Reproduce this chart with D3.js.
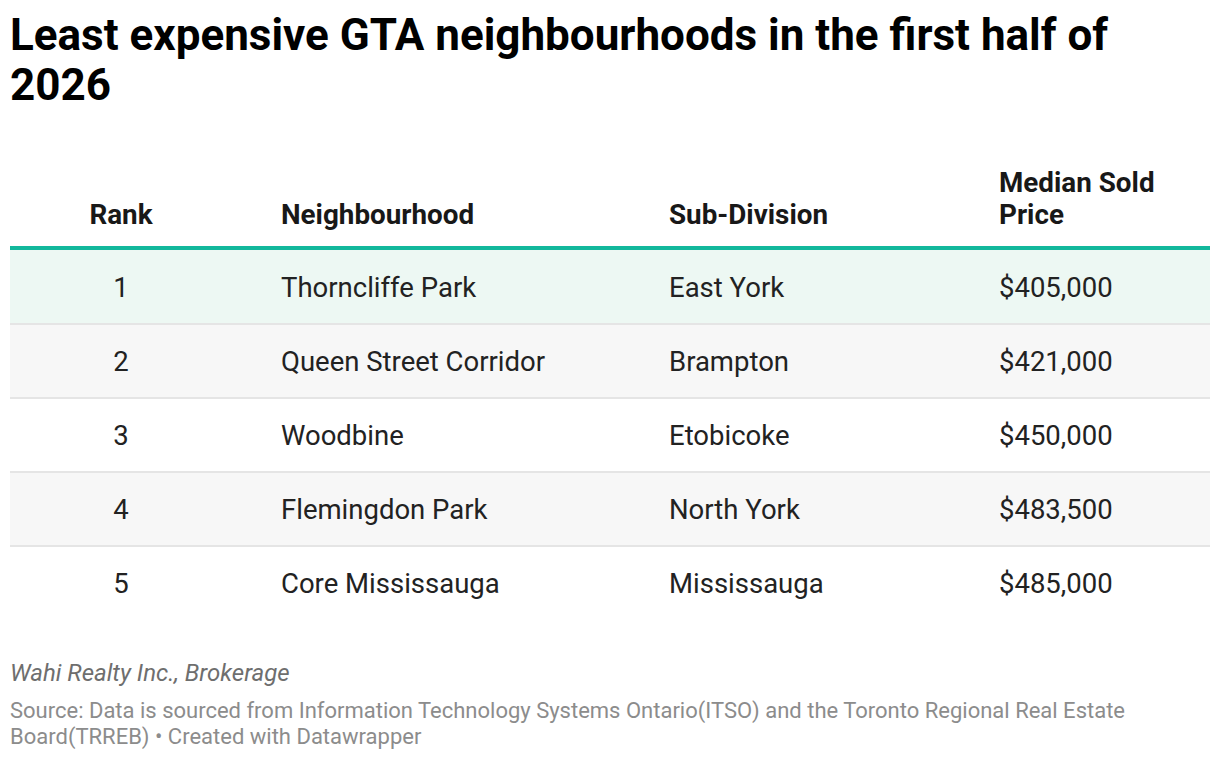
<!DOCTYPE html>
<html>
<head>
<meta charset="utf-8">
<script src="https://cdn.jsdelivr.net/npm/d3@7"></script>
<style>
  body { margin: 0; background: #fff; }
  svg { display: block; font-family: Roboto, sans-serif; }
</style>
</head>
<body>
<script>
	var titleLines = ["Least expensive GTA neighbourhoods in the first half of", "2026"];
	var headers = [["Rank"], ["Neighbourhood"], ["Sub-Division"], ["Median Sold", "Price"]];
	var ranks = [1, 2, 3, 4, 5];
	var neighbourhoods = ["Thorncliffe Park", "Queen Street Corridor", "Woodbine", "Flemingdon Park", "Core Mississauga"];
	var subDivisions = ["East York", "Brampton", "Etobicoke", "North York", "Mississauga"];
	var prices = [405000, 421000, 450000, 483500, 485000];
	var byline = "Wahi Realty Inc., Brokerage";
	var sourceLines = ["Source: Data is sourced from Information Technology Systems Ontario(ITSO) and the Toronto Regional Real Estate",
		"Board(TRREB) \u2022 Created with Datawrapper"];

	var w = 1220;
	var h = 760;
	var svg = d3.select("body").append("svg")
		.attr("width", w)
		.attr("height", h);

	// title
	svg.append("g").selectAll("text")
		.data(titleLines)
		.enter()
		.append("text")
		.text(function(d) { return d; })
		.attr("x", 10)
		.attr("y", function(d, i) { return 50 + i * 50; })
		.attr("font-size", "44px")
		.attr("font-weight", 700)
		.attr("fill", "#000");

	// columns: x position + anchor
	var cols = [
		{ x: 121, anchor: "middle" },
		{ x: 281, anchor: "start" },
		{ x: 669, anchor: "start" },
		{ x: 999, anchor: "start" }
	];

	var rows = d3.scaleBand()
		.domain(ranks)
		.range([250, 620])
		.padding(0);

	var fmt = d3.format("$,");

	// header
	var head = svg.append("g");
	headers.forEach(function(lines, c) {
		head.selectAll(null)
			.data(lines)
			.enter()
			.append("text")
			.text(function(d) { return d; })
			.attr("x", cols[c].x)
			.attr("y", function(d, i) { return 224 - (lines.length - 1 - i) * 32; })
			.attr("text-anchor", cols[c].anchor)
			.attr("font-size", "27.8px")
			.attr("font-weight", 700)
			.attr("fill", "#181818");
	});

	// row backgrounds
	svg.append("g").selectAll("rect")
		.data(ranks)
		.enter()
		.append("rect")
		.attr("x", 10)
		.attr("y", function(d) { return rows(d); })
		.attr("width", 1200)
		.attr("height", rows.bandwidth())
		.attr("fill", function(d, i) {
			if (i == 0) return "#edf8f3";
			return i % 2 == 1 ? "#f7f7f7" : "#ffffff";
		});

	// separators
	svg.append("g").selectAll("line")
		.data(ranks.slice(1))
		.enter()
		.append("line")
		.attr("x1", 10)
		.attr("x2", 1210)
		.attr("y1", function(d) { return rows(d); })
		.attr("y2", function(d) { return rows(d); })
		.attr("stroke", "#e5e5e5")
		.attr("stroke-width", 2);

	// header rule
	svg.append("rect")
		.attr("x", 10)
		.attr("y", 246)
		.attr("width", 1200)
		.attr("height", 4)
		.attr("fill", "#12b89c");

	// cells
	var cellData = [];
	ranks.forEach(function(r, i) {
		[r, neighbourhoods[i], subDivisions[i], fmt(prices[i])].forEach(function(v, c) {
			cellData.push({ row: r, col: c, value: v });
		});
	});

	svg.append("g").selectAll("text")
		.data(cellData)
		.enter()
		.append("text")
		.text(function(d) { return d.value; })
		.attr("x", function(d) { return cols[d.col].x; })
		.attr("y", function(d) { return rows(d.row) + rows.bandwidth() / 2; })
		.attr("dy", "0.35em")
		.attr("text-anchor", function(d) { return cols[d.col].anchor; })
		.attr("font-size", "27.5px")
		.attr("fill", "#222");

	// footer
	svg.append("text")
		.text(byline)
		.attr("x", 10)
		.attr("y", 681)
		.attr("font-size", "24px")
		.attr("font-style", "italic")
		.attr("fill", "#6e6e6e");

	svg.append("g").selectAll("text")
		.data(sourceLines)
		.enter()
		.append("text")
		.text(function(d) { return d; })
		.attr("x", 10)
		.attr("y", function(d, i) { return 718 + i * 26; })
		.attr("font-size", "22px")
		.attr("fill", "#8c8c8c");
</script>
</body>
</html>
